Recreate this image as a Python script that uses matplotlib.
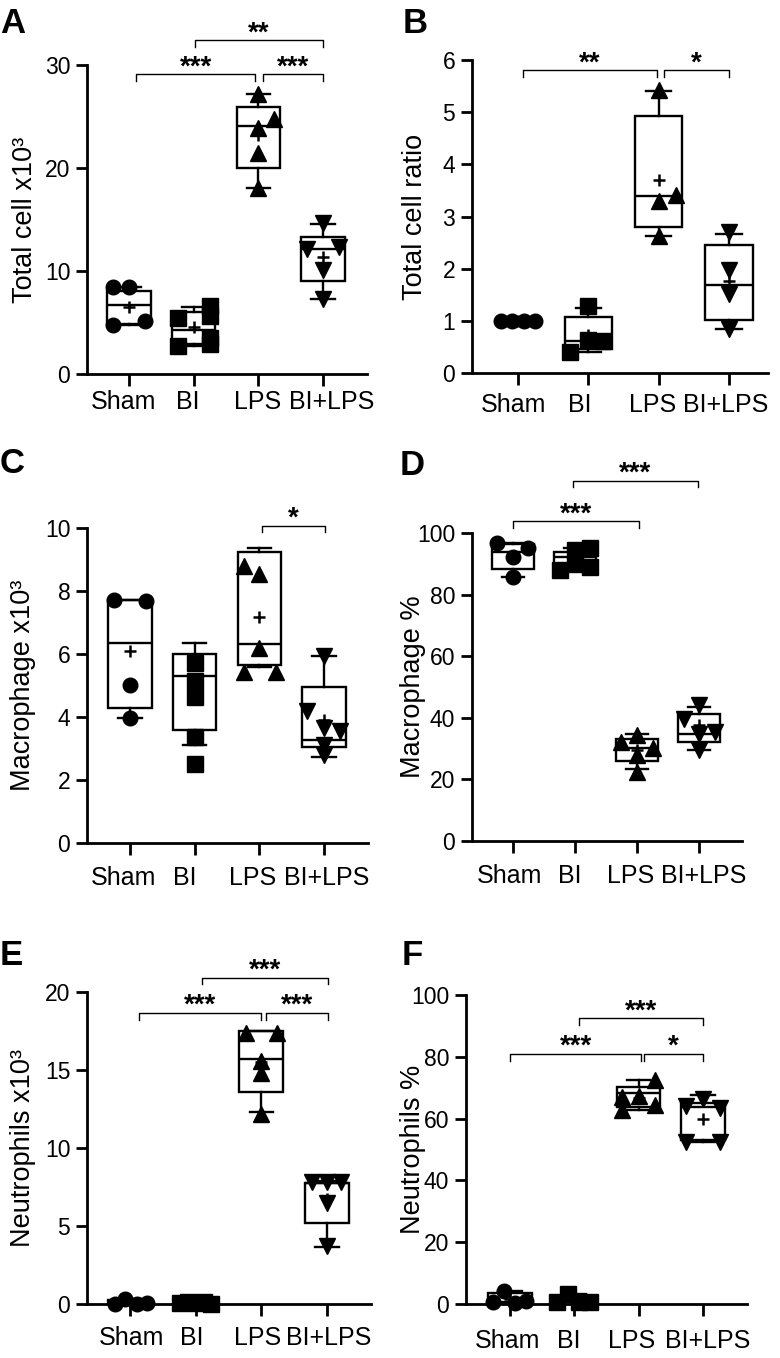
import numpy as np
import matplotlib
matplotlib.use("Agg")
import matplotlib.pyplot as plt

plt.rcParams["font.family"] = ["Liberation Sans", "DejaVu Sans"]

groups = ["Sham", "BI", "LPS", "BI+LPS"]
markers = ["o", "s", "^", "v"]
marker_sizes = [10.5, 11.5, 11.5, 11.5]

# box stats per group: [min, q1, median, q3, max, mean]

# A - total cells x10^3
a_vals = [[8.4, 8.4, 4.8, 5.1], [5.4, 2.7, 6.6, 5.6, 3.5, 2.9],
          [27.2, 24.8, 23.9, 21.5, 18.1], [14.7, 12.3, 12.1, 10.1, 7.3]]
a_offs = [[-0.25, 0, -0.25, 0.24], [-0.25, -0.25, 0.25, 0.25, 0.25, 0.25],
          [0, 0.24, 0, 0, 0], [0, 0.25, -0.25, 0, 0]]
a_box = [[4.75, 4.85, 6.7, 8.1, 8.4, 6.5], [2.7, 2.9, 4.3, 6.0, 6.5, 4.6],
         [18.1, 20.0, 24.1, 25.9, 27.2, 23.2], [7.3, 9.0, 12.1, 13.3, 14.6, 11.4]]
a_sig = [(0.11, 1.95, 29.1, "***"), (2.07, 3.0, 29.1, "***"), (1.02, 3.0, 32.4, "**")]

# B - total cell ratio
b_vals = [[1, 1, 1, 1], [1.28, 0.4, 0.63, 0.62], [5.42, 3.3, 3.42, 2.62], [2.7, 1.98, 1.52, 0.84]]
b_offs = [[-0.24, -0.08, 0.08, 0.24], [0, -0.26, 0, 0.21], [0, 0, 0.24, 0], [0, 0, 0, 0]]
b_box = [[1, 1, 1, 1, 1, 1], [0.4, 0.46, 0.62, 1.07, 1.25, 0.73],
         [2.62, 2.8, 3.4, 4.92, 5.41, 3.7], [0.84, 1.01, 1.69, 2.46, 2.66, 1.76]]
b_sig = [(0.07, 1.97, 5.8, "**"), (2.08, 3.0, 5.8, "*")]

# C - macrophage x10^3
c_vals = [[7.72, 7.68, 5.02, 3.96], [5.72, 5.15, 4.65, 3.35, 2.5],
          [8.78, 8.55, 6.18, 5.44, 5.44], [5.95, 4.2, 3.65, 3.55, 3.1, 2.8]]
c_offs = [[-0.24, 0.24, 0, 0], [0, 0, 0, 0, 0],
          [-0.23, 0, 0, -0.23, 0.25], [0, -0.26, 0, 0.25, 0, 0]]
c_box = [[3.96, 4.27, 6.34, 7.7, 7.72, 6.1], [3.11, 3.58, 5.3, 5.99, 6.34, 4.6],
         [5.6, 5.65, 6.32, 9.23, 9.38, 7.17], [2.72, 3.05, 3.27, 4.95, 5.95, 3.9]]
c_sig = [(2.04, 3.02, 10.07, "*")]

# D - macrophage %
d_vals = [[96.8, 95.0, 92.3, 85.8], [87.9, 94.5, 90.0, 95.0, 88.8],
          [34.4, 32.2, 30.2, 27.9, 22.5], [44.2, 39.5, 35.5, 34.9, 29.5]]
d_offs = [[-0.26, 0.24, 0, 0], [-0.24, 0, 0, 0.24, 0.24],
          [0, -0.26, 0.26, 0, 0], [0, -0.24, 0.26, 0, 0]]
d_box = [[85.8, 88.2, 93.8, 96.5, 96.8, 92.5], [87.9, 88.3, 92.2, 93.8, 95.0, 91.2],
         [23.3, 26.0, 30.2, 33.0, 34.7, 29.4], [29.5, 32.0, 34.9, 41.1, 43.6, 37.6]]
d_sig = [(0.0, 2.04, 103.8, "***"), (0.96, 2.99, 117.0, "***")]

# E - neutrophils x10^3
e_vals = [[0.0, 0.35, 0.0, 0.05], [0.05, 0.1, 0.05, 0.1, 0.0],
          [17.4, 17.4, 15.6, 14.8, 12.2], [7.85, 7.85, 7.85, 6.5, 3.7]]
e_offs = [[-0.23, -0.08, 0.1, 0.26], [-0.24, -0.12, 0, 0.12, 0.24],
          [-0.23, 0.24, 0, 0, 0], [-0.23, 0, 0.22, 0, 0]]
e_box = [[0, 0, 0.02, 0.25, 0.35, 0.1], [0, 0.02, 0.05, 0.1, 0.1, 0.06],
         [12.3, 13.6, 15.7, 17.5, 17.5, 15.5], [3.67, 5.17, 7.73, 7.73, 7.9, 6.75]]
e_sig = [(0.14, 1.99, 18.65, "***"), (2.07, 3.02, 18.65, "***"), (1.1, 3.02, 20.9, "***")]

# F - neutrophils %
f_vals = [[0.5, 4.3, 0.3, 1.0], [0.6, 3.2, 0.8, 0.5],
          [67.1, 62.8, 67.3, 72.5, 64.4], [66.5, 64.0, 63.5, 52.5, 52.5]]
f_offs = [[-0.26, -0.09, 0.08, 0.25], [-0.27, -0.1, 0.08, 0.25],
          [-0.26, -0.26, 0, 0.25, 0.25], [0, -0.27, 0.27, -0.27, 0.26]]
f_box = [[0.3, 0.35, 0.75, 3.5, 4.3, 1.5], [0.5, 0.52, 0.7, 2.6, 3.2, 1.3],
         [62.8, 63.9, 68.2, 70.3, 72.5, 66.8], [52.5, 53.1, 63.9, 65.2, 67.6, 59.8]]
f_sig = [(0.0, 2.04, 80.9, "***"), (2.09, 3.0, 80.9, "*"), (1.07, 3.0, 92.5, "***")]

W, H = 780, 1358
fig = plt.figure(figsize=(W / 100, H / 100), dpi=100)

# letter, letter pos, axes px box (l, t, r, b), first/last tick px, ylabel, ymax, yticks,
# ylabel x, category label shifts in px (labels are not centred on ticks in the original),
# baseline of category labels below the axis in px
panels = [
    ("A", (0, 33), (87, 65, 367, 374), (129, 323), "Total cell x10³", 30, np.arange(0, 31, 10), -0.221,
     [-6, -6, -1, 9], 35, a_vals, a_offs, a_box, a_sig),
    ("B", (403, 33), (472, 60, 768, 373), (518, 729), "Total cell ratio", 6, np.arange(0, 7, 1), -0.193,
     [-4, -9, -6, -3], 39, b_vals, b_offs, b_box, b_sig),
    ("C", (0, 473), (87, 528, 368, 843), (130, 324), "Macrophage x10³", 10, np.arange(0, 11, 2), -0.228,
     [-7, -10, -7, 3], 42, c_vals, c_offs, c_box, c_sig),
    ("D", (400, 475), (472, 533, 742, 841), (513, 699), "Macrophage %", 100, np.arange(0, 101, 20), -0.219,
     [-3, -5, -6, 5], 42, d_vals, d_offs, d_box, d_sig),
    ("E", (0, 965), (87, 992, 371, 1304), (130, 327), "Neutrophils x10³", 20, np.arange(0, 21, 5), -0.225,
     [2, -4, -4, 2], 41, e_vals, e_offs, e_box, e_sig),
    ("F", (402, 965), (466, 995, 747, 1304), (510, 703), "Neutrophils %", 100, np.arange(0, 101, 20), -0.189,
     [-3, -6, -7, 5], 44, f_vals, f_offs, f_box, f_sig),
]

lw = 1.7
for (letter, lpos, box, tks, ylabel, ymax, yticks, labx, shifts, lab_y,
     vals, offs, bstats, sigs) in panels:
    l, t, r, b = box
    ax = fig.add_axes([l / W, 1 - b / H, (r - l) / W, (b - t) / H])
    sp = (tks[1] - tks[0]) / 3
    ax.set_xlim((l - tks[0]) / sp, 3 + (r - tks[1]) / sp)
    ax.set_ylim(0, ymax)

    stats = [dict(whislo=s[0], q1=s[1], med=s[2], q3=s[3], whishi=s[4], mean=s[5]) for s in bstats]
    ax.bxp(stats, positions=range(4), widths=0.67, capwidths=0.36, showmeans=True,
           showfliers=False, patch_artist=True,
           boxprops=dict(facecolor="white", edgecolor="black", lw=lw),
           medianprops=dict(color="black", lw=lw),
           whiskerprops=dict(color="black", lw=lw),
           capprops=dict(color="black", lw=lw),
           meanprops=dict(marker="+", markeredgecolor="black", markersize=8, mew=1.8))

    for i in range(4):
        ax.plot(i + np.array(offs[i]), vals[i], ls="none", marker=markers[i],
                ms=marker_sizes[i], color="black", zorder=5, clip_on=False)

    d = ymax * 6.5 / (b - t)
    for x1, x2, y, txt in sigs:
        ax.plot([x1, x1, x2, x2], [y - d, y, y, y - d], color="black", lw=1, clip_on=False)
        ax.text((x1 + x2) / 2, y, txt, ha="center", va="baseline", fontsize=20,
                fontweight="bold")

    for s in ["top", "right"]:
        ax.spines[s].set_visible(False)
    for s in ["left", "bottom"]:
        ax.spines[s].set_linewidth(2)
    ax.set_xticks(range(4))
    ax.set_xticklabels([])
    for i, g in enumerate(groups):
        ax.annotate(g, (i, 0), xycoords=ax.get_xaxis_transform(), xytext=(shifts[i], -lab_y),
                    textcoords="offset pixels", ha="center", va="baseline", fontsize=18)
    ax.set_yticks(yticks)
    ax.tick_params(axis="y", labelsize=16.5, width=2, length=8, pad=4)
    ax.tick_params(axis="x", width=2, length=8.5)
    ax.set_ylabel(ylabel, fontsize=19.5, va="center")
    ax.yaxis.set_label_coords(labx, 0.5)

    fig.text(lpos[0] / W, 1 - lpos[1] / H, letter, fontsize=25, fontweight="bold",
             ha="left", va="baseline")

fig.savefig("out.png", dpi=100)
